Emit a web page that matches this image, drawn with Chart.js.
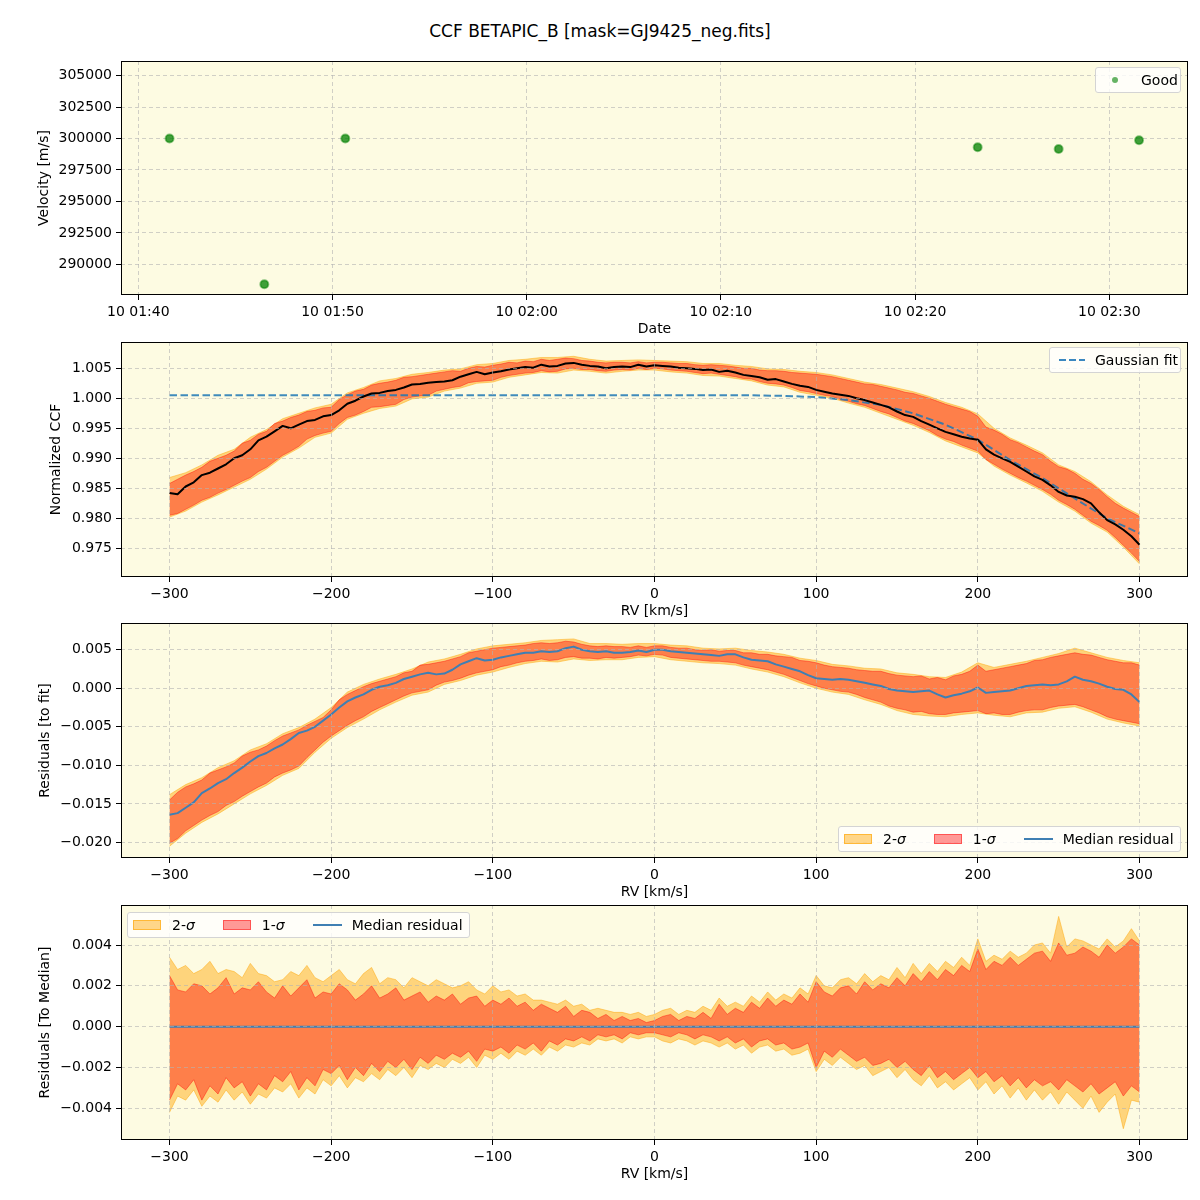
<!DOCTYPE html>
<html lang="en">
<head>
<meta charset="UTF-8">
<title>CCF BETAPIC_B</title>
<script src="https://cdn.jsdelivr.net/npm/chart.js"></script>
<style>
  body { margin: 0; background: #fff; font-family: 'DejaVu Sans', sans-serif; color: #000; }
  #page { position: relative; width: 1200px; height: 1200px; overflow: hidden; }
  canvas { position: absolute; left: 0; }
  h1 { position: absolute; top: 21px; left: 0; width: 1200px; margin: 0; text-align: center;
       font-size: 17px; font-weight: normal; }
  .legend { position: absolute; display: flex; align-items: center; box-sizing: border-box; height: 26px;
            background: rgba(255,255,255,0.8); border: 1px solid #d4d4d4; border-radius: 3px;
            font-size: 14px; padding-left: 5px; white-space: nowrap; }
  .sw { display: inline-block; width: 28px; height: 10px; box-sizing: border-box; margin-right: 11px; }
  .s2 { background: rgba(255,165,0,0.45); border: 1px solid rgba(255,165,0,0.6); }
  .s1 { background: rgba(255,0,0,0.4); border: 1px solid rgba(255,0,0,0.45); }
  .ln { display: inline-block; width: 29px; height: 2px; background: #3f7fb3; margin-right: 10px; }
  .gap { display: inline-block; width: 28px; }
</style>
</head>
<body>
<div id="page">
  <h1>CCF BETAPIC_B [mask=GJ9425_neg.fits]</h1>
  <canvas id="c1" width="1200" height="279" style="top:61px"></canvas>
  <canvas id="c2" width="1200" height="280" style="top:342px"></canvas>
  <canvas id="c3" width="1200" height="280" style="top:623px"></canvas>
  <canvas id="c4" width="1200" height="280" style="top:905px"></canvas>

  <div class="legend" style="left:1095px;top:67px;width:86px">
    <span style="display:inline-block;width:6px;height:6px;border-radius:50%;background:rgba(0,128,0,0.6);margin:0 23px 0 11px"></span>Good
  </div>
  <div class="legend" style="left:1049px;top:347px;width:132px;padding-left:9px">
    <span style="display:inline-block;width:26px;height:2px;margin-right:10px;background:repeating-linear-gradient(90deg,#3a87c0 0 7px,transparent 7px 10px)"></span>Gaussian fit
  </div>
  <div class="legend" style="left:838px;top:826px;width:343px">
    <span class="sw s2"></span>2-<i>σ</i><span class="gap"></span>
    <span class="sw s1"></span>1-<i>σ</i><span class="gap"></span>
    <span class="ln"></span>Median residual
  </div>
  <div class="legend" style="left:127px;top:912px;width:343px">
    <span class="sw s2"></span>2-<i>σ</i><span class="gap"></span>
    <span class="sw s1"></span>1-<i>σ</i><span class="gap"></span>
    <span class="ln"></span>Median residual
  </div>
</div>

<script>
// ---- data ----
// panel 1: observation times (minutes after 01:00 on day 10) and velocities
const obsMinutes = [41.61, 46.49, 50.66, 83.22, 87.39, 91.53];
const obsVel = [300000, 288410, 300000, 299306, 299170, 299862];

// RV sampling grids
const rv5 = Array.from({ length: 121 }, (_, i) => -300 + 5 * i);
const rv10 = Array.from({ length: 61 }, (_, i) => -300 + 10 * i);
const rv20 = Array.from({ length: 31 }, (_, i) => -300 + 20 * i);
const rvEnds = [-300, 300];

// panel 2: normalized CCF
const ccfMed = [
  0.9842, 0.9840, 0.9853, 0.9860, 0.9872, 0.9876, 0.9883, 0.9890, 0.9900, 0.9905,
  0.9915, 0.9930, 0.9936, 0.9945, 0.9954, 0.9950, 0.9956, 0.9962, 0.9964, 0.9970,
  0.9972, 0.9980, 0.9991, 0.9996, 1.0003, 1.0008, 1.0009, 1.0012, 1.0014, 1.0018,
  1.0023, 1.0024, 1.0026, 1.0027, 1.0028, 1.0030, 1.0036, 1.0040, 1.0044, 1.0040,
  1.0043, 1.0045, 1.0048, 1.0050, 1.0052, 1.0051, 1.0056, 1.0053, 1.0054, 1.0058,
  1.0059, 1.0056, 1.0054, 1.0053, 1.0050, 1.0052, 1.0053, 1.0052, 1.0056, 1.0053,
  1.0055, 1.0054, 1.0053, 1.0051, 1.0050, 1.0049, 1.0047, 1.0048, 1.0044, 1.0046,
  1.0043, 1.0039, 1.0037, 1.0035, 1.0031, 1.0032, 1.0028, 1.0024, 1.0021, 1.0019,
  1.0014, 1.0011, 1.0008, 1.0006, 1.0004, 1.0000, 0.9997, 0.9993, 0.9989, 0.9985,
  0.9978, 0.9972, 0.9969, 0.9962, 0.9956, 0.9950, 0.9944, 0.9940, 0.9936, 0.9933,
  0.9931, 0.9915, 0.9906, 0.9900, 0.9894, 0.9886, 0.9878, 0.9870, 0.9864, 0.9855,
  0.9844, 0.9838, 0.9836, 0.9832, 0.9825, 0.9810, 0.9797, 0.9790, 0.9781, 0.9770,
  0.9756
];
const ccfHi1 = [
  0.9858, 0.9865, 0.9872, 0.9878, 0.9885, 0.9895, 0.9900, 0.9905, 0.9912, 0.9925,
  0.9930, 0.9940, 0.9945, 0.9958, 0.9962, 0.9968, 0.9972, 0.9978, 0.9980, 0.9984,
  0.9985, 0.9998, 1.0006, 1.0012, 1.0015, 1.0022, 1.0025, 1.0027, 1.0030, 1.0035,
  1.0036, 1.0038, 1.0040, 1.0042, 1.0044, 1.0046, 1.0045, 1.0050, 1.0053, 1.0052,
  1.0055, 1.0057, 1.0060, 1.0059, 1.0062, 1.0061, 1.0065, 1.0063, 1.0065, 1.0067,
  1.0066, 1.0063, 1.0062, 1.0060, 1.0059, 1.0060, 1.0060, 1.0059, 1.0061, 1.0059,
  1.0060, 1.0060, 1.0059, 1.0058, 1.0058, 1.0056, 1.0055, 1.0056, 1.0055, 1.0054,
  1.0052, 1.0050, 1.0050, 1.0047, 1.0046, 1.0046, 1.0045, 1.0043, 1.0042, 1.0041,
  1.0040, 1.0038, 1.0036, 1.0033, 1.0030, 1.0027, 1.0024, 1.0023, 1.0020, 1.0017,
  1.0014, 1.0010, 1.0008, 1.0004, 1.0000, 0.9995, 0.9990, 0.9986, 0.9982, 0.9978,
  0.9970, 0.9952, 0.9947, 0.9940, 0.9931, 0.9926, 0.9919, 0.9912, 0.9906, 0.9895,
  0.9886, 0.9882, 0.9875, 0.9865, 0.9858, 0.9848, 0.9836, 0.9825, 0.9817, 0.9810,
  0.9803
];
const ccfLo1 = [
  0.9805, 0.9808, 0.9815, 0.9822, 0.9830, 0.9835, 0.9842, 0.9848, 0.9855, 0.9862,
  0.9868, 0.9878, 0.9885, 0.9895, 0.9905, 0.9912, 0.9920, 0.9932, 0.9938, 0.9942,
  0.9945, 0.9958, 0.9968, 0.9972, 0.9978, 0.9985, 0.9986, 0.9988, 0.9990, 0.9998,
  1.0002, 1.0004, 1.0005, 1.0012, 1.0015, 1.0018, 1.0020, 1.0026, 1.0028, 1.0029,
  1.0030, 1.0035, 1.0038, 1.0040, 1.0042, 1.0043, 1.0046, 1.0044, 1.0045, 1.0049,
  1.0050, 1.0048, 1.0048, 1.0046, 1.0045, 1.0047, 1.0048, 1.0047, 1.0050, 1.0048,
  1.0050, 1.0049, 1.0047, 1.0046, 1.0045, 1.0043, 1.0041, 1.0042, 1.0040, 1.0038,
  1.0036, 1.0033, 1.0032, 1.0028, 1.0025, 1.0024, 1.0022, 1.0018, 1.0013, 1.0011,
  1.0008, 1.0005, 1.0003, 0.9998, 0.9995, 0.9991, 0.9988, 0.9983, 0.9978, 0.9974,
  0.9968, 0.9962, 0.9958, 0.9952, 0.9946, 0.9938, 0.9932, 0.9928, 0.9922, 0.9917,
  0.9912, 0.9898, 0.9890, 0.9882, 0.9875, 0.9868, 0.9862, 0.9855, 0.9848, 0.9840,
  0.9830, 0.9823, 0.9815, 0.9805, 0.9795, 0.9788, 0.9780, 0.9768, 0.9755, 0.9742,
  0.9728
];
const ccfHi2 = [
  0.9868, 0.9876, 0.9889, 0.9905, 0.9915, 0.9935, 0.9948, 0.9966, 0.9975, 0.9984,
  0.9990, 1.0009, 1.0018, 1.0029, 1.0033, 1.0040, 1.0043, 1.0047, 1.0049, 1.0056,
  1.0058, 1.0063, 1.0065, 1.0068, 1.0068, 1.0070, 1.0065, 1.0062, 1.0063, 1.0064,
  1.0063, 1.0062, 1.0061, 1.0058, 1.0058, 1.0055, 1.0053, 1.0049, 1.0048, 1.0045,
  1.0043, 1.0039, 1.0033, 1.0027, 1.0023, 1.0017, 1.0011, 1.0003, 0.9993, 0.9985,
  0.9974, 0.9950, 0.9934, 0.9922, 0.9909, 0.9889, 0.9878, 0.9861, 0.9839, 0.9820,
  0.9806
];
const ccfLo2 = [
  0.9802, 0.9812, 0.9827, 0.9839, 0.9852, 0.9865, 0.9882, 0.9902, 0.9917, 0.9935,
  0.9942, 0.9965, 0.9975, 0.9983, 0.9987, 0.9999, 1.0002, 1.0012, 1.0017, 1.0025,
  1.0027, 1.0035, 1.0039, 1.0043, 1.0042, 1.0047, 1.0045, 1.0042, 1.0045, 1.0047,
  1.0047, 1.0044, 1.0042, 1.0038, 1.0037, 1.0033, 1.0029, 1.0022, 1.0019, 1.0010,
  1.0005, 1.0000, 0.9992, 0.9985, 0.9975, 0.9965, 0.9955, 0.9943, 0.9929, 0.9919,
  0.9909, 0.9887, 0.9872, 0.9859, 0.9845, 0.9827, 0.9812, 0.9792, 0.9777, 0.9752,
  0.9724
];
const ccfFit = [
  1.0005, 1.0005, 1.0005, 1.0005, 1.0005, 1.0005, 1.0005, 1.0005, 1.0005, 1.0005,
  1.0005, 1.0005, 1.0005, 1.0005, 1.0005, 1.0005, 1.0005, 1.0005, 1.0005, 1.0004,
  1.0002, 0.9997, 0.9989, 0.9975, 0.9956, 0.9931, 0.9897, 0.9867, 0.9833, 0.9800,
  0.9775
];

// panel 3: residuals to fit
const resMed = [
  -0.0164, -0.0162, -0.0155, -0.0148, -0.0136, -0.0130, -0.0123, -0.0118, -0.0110, -0.0103,
  -0.0095, -0.0088, -0.0084, -0.0078, -0.0073, -0.0066, -0.0058, -0.0055, -0.0050, -0.0042,
  -0.0034, -0.0025, -0.0017, -0.0012, -0.0008, -0.0002, 0.0002, 0.0004, 0.0007, 0.0012,
  0.0015, 0.0018, 0.0020, 0.0018, 0.0019, 0.0024, 0.0031, 0.0035, 0.0039, 0.0036,
  0.0037, 0.0040, 0.0042, 0.0044, 0.0046, 0.0046, 0.0048, 0.0047, 0.0048, 0.0052,
  0.0054, 0.0050, 0.0048, 0.0047, 0.0048, 0.0046, 0.0046, 0.0047, 0.0049, 0.0047,
  0.0050, 0.0050, 0.0048, 0.0047, 0.0046, 0.0045, 0.0044, 0.0043, 0.0042, 0.0044,
  0.0044, 0.0040, 0.0037, 0.0036, 0.0035, 0.0031, 0.0028, 0.0025, 0.0022, 0.0017,
  0.0013, 0.0012, 0.0011, 0.0012, 0.0011, 0.0009, 0.0007, 0.0005, 0.0003, -0.0001,
  -0.0003, -0.0004, -0.0005, -0.0004, -0.0003, -0.0008, -0.0012, -0.0009, -0.0007, -0.0004,
  0.0001, -0.0006, -0.0005, -0.0004, -0.0003, 0.0000, 0.0003, 0.0004, 0.0005, 0.0004,
  0.0005, 0.0009, 0.0015, 0.0011, 0.0009, 0.0006, 0.0002, -0.0001, -0.0002, -0.0008,
  -0.0018
];
const resHi1 = [
  -0.0145, -0.0135, -0.0128, -0.0124, -0.0119, -0.0110, -0.0106, -0.0102, -0.0097, -0.0088,
  -0.0083, -0.0080, -0.0075, -0.0068, -0.0062, -0.0058, -0.0054, -0.0048, -0.0043, -0.0038,
  -0.0028, -0.0015, -0.0008, -0.0003, 0.0002, 0.0006, 0.0009, 0.0012, 0.0015, 0.0020,
  0.0022, 0.0030, 0.0031, 0.0033, 0.0035, 0.0038, 0.0041, 0.0046, 0.0048, 0.0050,
  0.0052, 0.0053, 0.0054, 0.0055, 0.0056, 0.0058, 0.0059, 0.0058, 0.0059, 0.0061,
  0.0060, 0.0057, 0.0055, 0.0054, 0.0055, 0.0054, 0.0054, 0.0053, 0.0055, 0.0053,
  0.0055, 0.0055, 0.0053, 0.0052, 0.0052, 0.0050, 0.0049, 0.0050, 0.0048, 0.0049,
  0.0049, 0.0046, 0.0046, 0.0044, 0.0044, 0.0042, 0.0041, 0.0040, 0.0036, 0.0035,
  0.0033, 0.0030, 0.0028, 0.0027, 0.0026, 0.0024, 0.0023, 0.0022, 0.0022, 0.0019,
  0.0017, 0.0016, 0.0015, 0.0016, 0.0012, 0.0014, 0.0011, 0.0016, 0.0018, 0.0022,
  0.0030, 0.0022, 0.0024, 0.0026, 0.0028, 0.0030, 0.0032, 0.0036, 0.0037, 0.0040,
  0.0042, 0.0044, 0.0046, 0.0044, 0.0043, 0.0040, 0.0037, 0.0035, 0.0033, 0.0033,
  0.0030
];
const resLo1 = [
  -0.0201, -0.0195, -0.0185, -0.0178, -0.0171, -0.0165, -0.0160, -0.0152, -0.0147, -0.0140,
  -0.0134, -0.0128, -0.0123, -0.0115, -0.0110, -0.0106, -0.0101, -0.0090, -0.0080, -0.0070,
  -0.0062, -0.0055, -0.0048, -0.0042, -0.0037, -0.0030, -0.0025, -0.0020, -0.0015, -0.0010,
  -0.0006, -0.0004, -0.0002, 0.0004, 0.0008, 0.0010, 0.0013, 0.0017, 0.0020, 0.0022,
  0.0024, 0.0028, 0.0030, 0.0033, 0.0035, 0.0036, 0.0038, 0.0036, 0.0037, 0.0040,
  0.0041, 0.0039, 0.0039, 0.0038, 0.0040, 0.0039, 0.0040, 0.0041, 0.0043, 0.0042,
  0.0044, 0.0043, 0.0040, 0.0039, 0.0038, 0.0037, 0.0036, 0.0035, 0.0035, 0.0034,
  0.0033, 0.0030, 0.0028, 0.0026, 0.0024, 0.0021, 0.0018, 0.0014, 0.0010, 0.0006,
  0.0003, 0.0000, -0.0002, -0.0004, -0.0005, -0.0008, -0.0012, -0.0015, -0.0018, -0.0023,
  -0.0026, -0.0028, -0.0031, -0.0030, -0.0033, -0.0034, -0.0034, -0.0032, -0.0031, -0.0030,
  -0.0029, -0.0033, -0.0032, -0.0034, -0.0034, -0.0031, -0.0029, -0.0028, -0.0028, -0.0025,
  -0.0023, -0.0022, -0.0021, -0.0024, -0.0028, -0.0032, -0.0037, -0.0040, -0.0042, -0.0044,
  -0.0046
];
const resHi2 = [
  -0.0138, -0.0125, -0.0116, -0.0103, -0.0094, -0.0080, -0.0072, -0.0059, -0.0051, -0.0040,
  -0.0025, -0.0005, 0.0005, 0.0012, 0.0018, 0.0025, 0.0034, 0.0038, 0.0044, 0.0051,
  0.0055, 0.0057, 0.0059, 0.0062, 0.0063, 0.0064, 0.0058, 0.0058, 0.0057, 0.0058,
  0.0058, 0.0056, 0.0055, 0.0052, 0.0051, 0.0052, 0.0049, 0.0047, 0.0044, 0.0039,
  0.0036, 0.0031, 0.0029, 0.0026, 0.0025, 0.0020, 0.0018, 0.0015, 0.0014, 0.0021,
  0.0033, 0.0027, 0.0031, 0.0035, 0.0040, 0.0045, 0.0052, 0.0046, 0.0040, 0.0036,
  0.0033
];
const resLo2 = [
  -0.0205, -0.0188, -0.0174, -0.0163, -0.0150, -0.0137, -0.0126, -0.0113, -0.0104, -0.0083,
  -0.0065, -0.0051, -0.0040, -0.0028, -0.0018, -0.0009, -0.0005, 0.0005, 0.0010, 0.0017,
  0.0021, 0.0027, 0.0032, 0.0035, 0.0034, 0.0038, 0.0036, 0.0037, 0.0037, 0.0040,
  0.0041, 0.0037, 0.0035, 0.0033, 0.0032, 0.0030, 0.0025, 0.0021, 0.0015, 0.0007,
  0.0000, -0.0005, -0.0008, -0.0015, -0.0021, -0.0029, -0.0034, -0.0036, -0.0037, -0.0034,
  -0.0032, -0.0035, -0.0037, -0.0032, -0.0031, -0.0026, -0.0024, -0.0031, -0.0040, -0.0045,
  -0.0049
];

// panel 4: residuals to median
const medZero = [0, 0];
const devHi1 = [
  0.0025, 0.0018, 0.0017, 0.0021, 0.0020, 0.0016, 0.0019, 0.0024, 0.0016, 0.0019,
  0.0018, 0.0022, 0.0017, 0.0014, 0.0020, 0.0015, 0.0019, 0.0023, 0.0014, 0.0017,
  0.0016, 0.0021, 0.0018, 0.0013, 0.0016, 0.0020, 0.0014, 0.0016, 0.0019, 0.0013,
  0.0015, 0.0017, 0.0012, 0.0015, 0.0013, 0.0016, 0.0011, 0.0014, 0.0015, 0.0010,
  0.0013, 0.0011, 0.0014, 0.0010, 0.0012, 0.0008, 0.0011, 0.0009, 0.0007, 0.0010,
  0.0005, 0.0008, 0.0007, 0.0004, 0.0006, 0.0003, 0.0005, 0.0003, 0.0004, 0.0002,
  0.0003, 0.0005, 0.0006, 0.0003, 0.0005, 0.0004, 0.0007, 0.0004, 0.0011, 0.0006,
  0.0009, 0.0007, 0.0012, 0.0009, 0.0014, 0.0010, 0.0013, 0.0011, 0.0016, 0.0012,
  0.0022, 0.0017, 0.0015, 0.0019, 0.0020, 0.0016, 0.0022, 0.0018, 0.0021, 0.0019,
  0.0024, 0.0020, 0.0026, 0.0022, 0.0027, 0.0023, 0.0028, 0.0025, 0.0030, 0.0027,
  0.0038, 0.0028, 0.0032, 0.0030, 0.0034, 0.0030, 0.0033, 0.0036, 0.0037, 0.0032,
  0.0041, 0.0035, 0.0036, 0.0039, 0.0037, 0.0034, 0.0040, 0.0036, 0.0039, 0.0043,
  0.0040
];
const devHi2 = [
  0.0034, 0.0028, 0.0030, 0.0026, 0.0028, 0.0032, 0.0026, 0.0028, 0.0027, 0.0024,
  0.0031, 0.0026, 0.0025, 0.0022, 0.0023, 0.0027, 0.0025, 0.0030, 0.0024, 0.0022,
  0.0025, 0.0028, 0.0023, 0.0021, 0.0026, 0.0029, 0.0021, 0.0024, 0.0023, 0.0019,
  0.0024, 0.0022, 0.0020, 0.0023, 0.0021, 0.0019, 0.0020, 0.0022, 0.0018, 0.0016,
  0.0020, 0.0017, 0.0018, 0.0015, 0.0016, 0.0013, 0.0013, 0.0012, 0.0011, 0.0013,
  0.0010, 0.0011, 0.0008, 0.0009, 0.0008, 0.0007, 0.0007, 0.0006, 0.0007, 0.0005,
  0.0006, 0.0008, 0.0009, 0.0006, 0.0008, 0.0007, 0.0010, 0.0008, 0.0014, 0.0010,
  0.0012, 0.0010, 0.0015, 0.0012, 0.0017, 0.0013, 0.0016, 0.0014, 0.0019, 0.0016,
  0.0025, 0.0020, 0.0019, 0.0023, 0.0024, 0.0021, 0.0026, 0.0022, 0.0025, 0.0023,
  0.0029, 0.0024, 0.0031, 0.0026, 0.0031, 0.0027, 0.0032, 0.0029, 0.0034, 0.0030,
  0.0043, 0.0032, 0.0035, 0.0033, 0.0037, 0.0034, 0.0036, 0.0040, 0.0041, 0.0036,
  0.0054, 0.0039, 0.0043, 0.0042, 0.0040, 0.0038, 0.0043, 0.0039, 0.0042, 0.0048,
  0.0042
];
const devLo1 = [
  -0.0036, -0.0028, -0.0031, -0.0026, -0.0036, -0.0029, -0.0033, -0.0025, -0.0030, -0.0027,
  -0.0034, -0.0028, -0.0031, -0.0024, -0.0027, -0.0022, -0.0031, -0.0025, -0.0029, -0.0021,
  -0.0023, -0.0019, -0.0026, -0.0020, -0.0024, -0.0018, -0.0022, -0.0017, -0.0020, -0.0016,
  -0.0021, -0.0015, -0.0018, -0.0014, -0.0016, -0.0013, -0.0015, -0.0012, -0.0017, -0.0011,
  -0.0012, -0.0010, -0.0013, -0.0009, -0.0011, -0.0008, -0.0012, -0.0007, -0.0009, -0.0006,
  -0.0007, -0.0005, -0.0007, -0.0004, -0.0005, -0.0004, -0.0006, -0.0003, -0.0004, -0.0003,
  -0.0003, -0.0004, -0.0005, -0.0003, -0.0004, -0.0006, -0.0004, -0.0005, -0.0007, -0.0005,
  -0.0008, -0.0006, -0.0010, -0.0007, -0.0006, -0.0009, -0.0008, -0.0011, -0.0010, -0.0008,
  -0.0020, -0.0012, -0.0015, -0.0011, -0.0014, -0.0017, -0.0015, -0.0019, -0.0018, -0.0016,
  -0.0020, -0.0017, -0.0021, -0.0024, -0.0019, -0.0025, -0.0022, -0.0026, -0.0023, -0.0020,
  -0.0025, -0.0022, -0.0027, -0.0024, -0.0029, -0.0025, -0.0030, -0.0026, -0.0029, -0.0027,
  -0.0031, -0.0026, -0.0029, -0.0032, -0.0028, -0.0033, -0.0030, -0.0027, -0.0034, -0.0029,
  -0.0032
];
const devLo2 = [
  -0.0042, -0.0034, -0.0036, -0.0031, -0.0039, -0.0034, -0.0037, -0.0031, -0.0036, -0.0032,
  -0.0038, -0.0033, -0.0035, -0.0030, -0.0032, -0.0028, -0.0035, -0.0030, -0.0033, -0.0026,
  -0.0029, -0.0024, -0.0030, -0.0025, -0.0027, -0.0023, -0.0026, -0.0021, -0.0024, -0.0020,
  -0.0025, -0.0019, -0.0021, -0.0018, -0.0020, -0.0016, -0.0018, -0.0015, -0.0020, -0.0014,
  -0.0016, -0.0013, -0.0016, -0.0012, -0.0014, -0.0011, -0.0014, -0.0010, -0.0012, -0.0009,
  -0.0010, -0.0008, -0.0009, -0.0006, -0.0007, -0.0006, -0.0008, -0.0005, -0.0006, -0.0005,
  -0.0005, -0.0007, -0.0008, -0.0006, -0.0007, -0.0009, -0.0007, -0.0008, -0.0010, -0.0008,
  -0.0011, -0.0009, -0.0013, -0.0010, -0.0009, -0.0012, -0.0011, -0.0014, -0.0013, -0.0011,
  -0.0022, -0.0016, -0.0019, -0.0015, -0.0018, -0.0021, -0.0019, -0.0024, -0.0022, -0.0020,
  -0.0025, -0.0021, -0.0026, -0.0029, -0.0024, -0.0030, -0.0027, -0.0031, -0.0028, -0.0025,
  -0.0031, -0.0027, -0.0033, -0.0029, -0.0035, -0.0030, -0.0036, -0.0031, -0.0036, -0.0032,
  -0.0038, -0.0032, -0.0036, -0.0040, -0.0034, -0.0042, -0.0037, -0.0033, -0.0050, -0.0036,
  -0.0037
];

// tick positions
const timeTicks = [40, 50, 60, 70, 80, 90];
const velTicks = [290000, 292500, 295000, 297500, 300000, 302500, 305000];
const rvTicks = [-300, -200, -100, 0, 100, 200, 300];
const ccfTicks = [0.975, 0.980, 0.985, 0.990, 0.995, 1.000, 1.005];
const resTicks = [-0.020, -0.015, -0.010, -0.005, 0, 0.005];
const devTicks = [-0.004, -0.002, 0, 0.002, 0.004];

// ---- styling ----
const plotBg = '#fdfbe2';
const gridColor = 'rgba(178,178,178,0.6)';
const font = { family: "'DejaVu Sans', sans-serif", size: 14 };
const fill2 = 'rgba(255,165,0,0.45)';
const fill1 = 'rgba(255,0,0,0.4)';
const medBlue = '#3f7fb3';

// plot background and black frame around the chart area
const frame = {
  id: 'frame',
  beforeDraw(chart) {
    const { ctx, chartArea: a } = chart;
    ctx.save();
    ctx.fillStyle = plotBg;
    ctx.fillRect(a.left, a.top, a.width, a.height);
    ctx.restore();
  },
  afterDraw(chart) {
    const { ctx, chartArea: a } = chart;
    ctx.save();
    ctx.strokeStyle = '#000';
    ctx.lineWidth = 1;
    ctx.strokeRect(a.left + 0.5, a.top + 0.5, a.width - 1, a.height - 1);
    ctx.restore();
  }
};

function pts(xs, ys) {
  return xs.map((x, i) => ({ x: x, y: ys[i] }));
}
function setTicks(values) {
  return axis => { axis.ticks = values.map(v => ({ value: v })); };
}
function minus(s) {
  return String(s).replace('-', '\u2212');
}
function clock(m) {
  const h = 1 + Math.floor(m / 60), mm = m % 60;
  return '10 ' + String(h).padStart(2, '0') + ':' + String(mm).padStart(2, '0');
}

function xAxis(min, max, ticks, fmt, title, z) {
  return {
    type: 'linear', min: min, max: max,
    afterBuildTicks: setTicks(ticks),
    afterFit: a => { a.height = 45; a.paddingLeft = 0; a.paddingRight = 0; },
    border: { display: false, dash: [4, 3] },
    grid: { color: gridColor, lineWidth: 1, tickLength: 5, tickColor: '#000', tickWidth: 1, z: z },
    ticks: { color: '#000', font: font, padding: 4, maxRotation: 0, autoSkip: false, callback: fmt },
    title: { display: true, text: title, color: '#000', font: font, padding: { top: 0, bottom: 2 } }
  };
}
function yAxis(min, max, ticks, fmt, title, pad, z) {
  return {
    type: 'linear', min: min, max: max,
    afterBuildTicks: setTicks(ticks),
    afterFit: a => { a.width = 121; a.paddingTop = 0; a.paddingBottom = 0; },
    border: { display: false, dash: [4, 3] },
    grid: { color: gridColor, lineWidth: 1, tickLength: 5, tickColor: '#000', tickWidth: 1, z: z },
    ticks: { color: '#000', font: font, padding: 4, autoSkip: false, callback: fmt },
    title: { display: true, text: title, color: '#000', font: font, padding: { top: pad, bottom: 0 } }
  };
}

function makeChart(id, datasets, scales) {
  return new Chart(document.getElementById(id), {
    type: 'line',
    data: { datasets: datasets },
    options: {
      responsive: false,
      animation: false,
      devicePixelRatio: 1,
      layout: { autoPadding: false, padding: { left: 0, right: 12, top: 0, bottom: 0 } },
      plugins: { legend: { display: false }, tooltip: { enabled: false } },
      scales: scales
    },
    plugins: [frame]
  });
}

function line(xs, ys, color, width, extra) {
  return Object.assign({
    data: pts(xs, ys), borderColor: color, borderWidth: width,
    pointRadius: 0, tension: 0, fill: false, borderJoinStyle: 'round'
  }, extra || {});
}

// bands: index order = draw order reversed (first dataset ends on top)
function bands(xs1, lo1, hi1, xs2, lo2, hi2) {
  return [
    line(xs1, lo1, fill1, 1),
    line(xs1, hi1, fill1, 1, { fill: '-1', backgroundColor: fill1 }),
    line(xs2, lo2, fill2, 1),
    line(xs2, hi2, fill2, 1, { fill: '-1', backgroundColor: fill2 })
  ];
}

const rvFmt = v => minus(v);

// panel 1: velocities
makeChart('c1', [{
  type: 'scatter',
  data: pts(obsMinutes, obsVel),
  pointRadius: 4, pointBorderWidth: 2,
  pointBackgroundColor: 'rgba(0,128,0,0.75)',
  pointBorderColor: 'rgba(0,128,0,0.45)',
  showLine: false
}], {
  x: xAxis(39.11, 94.05, timeTicks, v => clock(v), 'Date', 0),
  y: yAxis(287558, 306169, velTicks, v => String(v), 'Velocity [m/s]', 36, 0)
});

// panel 2: normalized CCF
makeChart('c2', [
  line(rv5, ccfMed, '#000', 2),
  line(rv20, ccfFit, 'rgba(31,119,180,0.85)', 2, { borderDash: [7.5, 3.5] })
].concat(bands(rv5, ccfLo1, ccfHi1, rv10, ccfLo2, ccfHi2)), {
  x: xAxis(-330, 330, rvTicks, rvFmt, 'RV [km/s]', 1),
  y: yAxis(0.97022, 1.00938, ccfTicks, v => v.toFixed(3), 'Normalized CCF', 48, 1)
});

// panel 3: residuals to fit
makeChart('c3', [
  line(rv5, resMed, medBlue, 2)
].concat(bands(rv5, resLo1, resHi1, rv10, resLo2, resHi2)), {
  x: xAxis(-330, 330, rvTicks, rvFmt, 'RV [km/s]', 1),
  y: yAxis(-0.02202, 0.008464, resTicks, v => minus(v.toFixed(3)), 'Residuals [to fit]', 37, 1)
});

// panel 4: residuals to median
makeChart('c4', [
  line(rvEnds, medZero, medBlue, 2)
].concat(bands(rv5, devLo1, devHi1, rv5, devLo2, devHi2)), {
  x: xAxis(-330, 330, rvTicks, rvFmt, 'RV [km/s]', 1),
  y: yAxis(-0.005553, 0.00596, devTicks, v => minus(v.toFixed(3)), 'Residuals [To Median]', 37, 1)
});
</script>
</body>
</html>
